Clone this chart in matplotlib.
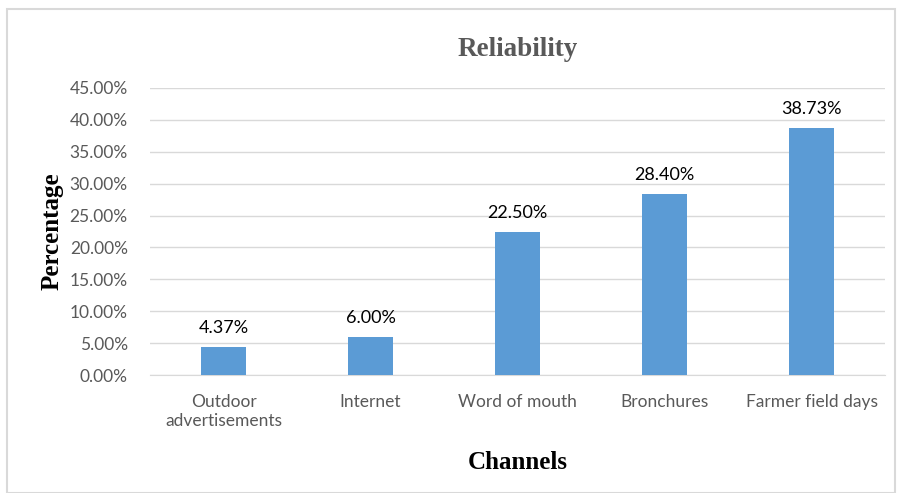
import matplotlib.pyplot as plt
from matplotlib.patches import Rectangle
from matplotlib.ticker import FuncFormatter

channels = ["Outdoor\nadvertisements", "Internet", "Word of mouth", "Bronchures", "Farmer field days"]
reliability = [4.37, 6.00, 22.50, 28.40, 38.73]
yticks = [0, 5, 10, 15, 20, 25, 30, 35, 40, 45]

fig = plt.figure(figsize=(9.01, 4.93), dpi=100)
ax = fig.add_axes([150 / 901, 1 - 375 / 493, 735 / 901, 287 / 493])

# chart frame
fig.patches.append(Rectangle((7 / 901, 0), 888 / 901, 1 - 9 / 493, transform=fig.transFigure,
                             fill=False, edgecolor="#d9d9d9", linewidth=1.5))

x = range(len(channels))
bars = ax.bar(x, reliability, width=0.31, color="#5b9bd5", zorder=3)
for xi, v in zip(x, reliability):
    ax.text(xi, v + 1.7, f"{v:.2f}%", ha="center", va="bottom", fontsize=13,
            family="Lato", color="#000000")

ax.set_xlim(-0.5, len(channels) - 0.5)
ax.set_ylim(0, 45)
ax.set_yticks(yticks)
ax.yaxis.set_major_formatter(FuncFormatter(lambda v, p: f"{v:.2f}%"))
ax.set_xticks(list(x))
ax.set_xticklabels(channels)
ax.grid(axis="y", color="#d9d9d9", linewidth=1, zorder=0)
for s in ["top", "right", "left"]:
    ax.spines[s].set_visible(False)
ax.spines["bottom"].set_color("#d9d9d9")
ax.tick_params(axis="x", length=0, labelsize=12.5, labelcolor="#595959", pad=14)
ax.tick_params(axis="y", length=0, labelsize=12.5, labelcolor="#595959", pad=16)
for lab in ax.get_xticklabels() + ax.get_yticklabels():
    lab.set_family("Lato")

ax.set_title("Reliability", fontsize=19.5, fontweight="bold", family="Liberation Serif",
             color="#595959", pad=23)
ax.set_xlabel("Channels", fontsize=18, fontweight="bold", family="Liberation Serif", labelpad=16)
ax.set_ylabel("Percentage", fontsize=18, fontweight="bold", family="Liberation Serif", labelpad=4)

fig.savefig("out.png", dpi=100)
